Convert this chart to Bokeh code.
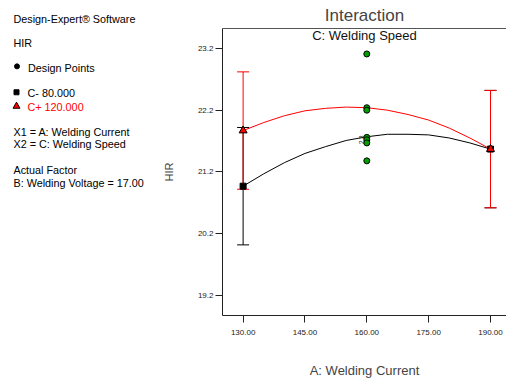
import numpy as np
from bokeh.plotting import figure
from bokeh.layouts import row
from bokeh.models import Range1d, LinearAxis, FixedTicker, Label
from bokeh.core.properties import value
from bokeh.embed import file_html
from bokeh.resources import INLINE

FONT = "Liberation Sans"

# ---- data ----
curve_x = [130, 135, 140, 145, 150, 155, 160, 165, 170, 175, 180, 185, 190]
c_minus = [20.97, 21.17, 21.35, 21.50, 21.61, 21.71, 21.77, 21.81, 21.81, 21.80, 21.75, 21.67, 21.57]
c_plus = [21.87, 22.00, 22.11, 22.19, 22.23, 22.25, 22.24, 22.20, 22.13, 22.04, 21.91, 21.75, 21.57]

end_x = [130, 190]
c_minus_end = [20.97, 21.57]
c_plus_end = [21.87, 21.57]
c_minus_lo = [20.02, 20.62]
c_minus_hi = [21.92, 22.52]
c_plus_lo = [20.92, 20.62]
c_plus_hi = [22.82, 22.52]

design_x = [160, 160, 160, 160, 160, 160, 160]
design_y = [23.11, 22.24, 22.20, 21.76, 21.72, 21.67, 21.38]

x_ticks = [130, 145, 160, 175, 190]
y_ticks = [19.2, 20.2, 21.2, 22.2, 23.2]

H = 380
FRAME_TOP = 28
FRAME_BOTTOM = 316
INFO_SIZE = "10.8px"

# ---- left info panel (its frame is aligned with the main frame) ----
W_LEFT = 158
left = figure(width=W_LEFT, height=H, x_range=Range1d(0, W_LEFT),
              y_range=Range1d(FRAME_BOTTOM, FRAME_TOP),
              output_backend="svg", toolbar_location=None, min_border=0,
              x_axis_type=None, y_axis_type=None, title="Design-Expert® Software")
left.title.align = "left"
left.title.offset = 13
left.title.standoff = 8
left.title.text_font = FONT
left.title.text_font_size = INFO_SIZE
left.title.text_font_style = "normal"
left.title.text_color = "black"
left.grid.visible = False
left.outline_line_color = None

info_lines = [
    (13, 42.7, "HIR", "black"),
    (27.5, 67.3, "Design Points", "black"),
    (27, 92.7, "C- 80.000", "black"),
    (27, 106.7, "C+ 120.000", "red"),
    (13, 132.3, "X1 = A: Welding Current", "black"),
    (13, 144.3, "X2 = C: Welding Speed", "black"),
    (13, 170.3, "Actual Factor", "black"),
    (13, 183, "B: Welding Voltage = 17.00", "black"),
]
for tx, ty, t, c in info_lines:
    left.add_layout(Label(x=tx, y=ty, text=t, text_font=FONT, text_font_size=INFO_SIZE,
                          text_color=c, text_baseline="middle", text_align="left"))
left.scatter(x=[16.5], y=[66], marker="circle", size=5, color="black")
left.scatter(x=[16], y=[92], marker="square", size=5, color="black")
left.scatter(x=[16], y=[106], marker="triangle", size=7, fill_color="red", line_color="black")

# ---- main plot ----
p = figure(width=348, height=H, output_backend="svg", toolbar_location=None,
           x_range=Range1d(125, 193.88), y_range=Range1d(18.877, 23.522),
           min_border_left=64, min_border_right=0, min_border_top=FRAME_TOP,
           min_border_bottom=H - FRAME_BOTTOM, title="Interaction")
p.title.align = "center"
p.title.text_font = FONT
p.title.text_font_size = "17px"
p.title.text_font_style = "normal"
p.title.standoff = 7
p.outline_line_color = None
p.grid.visible = False

p.xaxis.ticker = FixedTicker(ticks=x_ticks)
p.xaxis.major_label_overrides = {t: f"{t:.2f}" for t in x_ticks}
p.yaxis.ticker = FixedTicker(ticks=y_ticks)
p.yaxis.major_label_overrides = {t: f"{t:.1f}" for t in y_ticks}
p.xaxis.axis_label = "A: Welding Current"
p.yaxis.axis_label = "HIR"
for ax in (p.xaxis[0], p.yaxis[0]):
    ax.minor_tick_line_color = None
    ax.major_tick_in = 0
    ax.major_tick_out = 7
    ax.major_label_text_font = FONT
    ax.major_label_text_font_size = "8px"
    ax.major_label_text_color = "#222222"
    ax.axis_label_text_font = FONT
    ax.axis_label_text_font_style = "normal"
    ax.axis_line_color = "#222222"
    ax.major_tick_line_color = "#222222"
p.xaxis.axis_label_text_font_size = "13px"
p.yaxis.axis_label_text_font_size = "11px"
p.xaxis.major_label_standoff = 7
p.yaxis.major_label_standoff = 2
p.xaxis.axis_label_standoff = 25
p.yaxis.axis_label_standoff = 20

top_axis = LinearAxis(ticker=FixedTicker(ticks=[]), major_tick_out=0, major_tick_in=0,
                      minor_tick_line_color=None, major_label_text_font_size="0px",
                      axis_line_color="#555555")
p.add_layout(top_axis, "above")

p.text(x=[(125 + 193.88) / 2], y=[23.41], text=["C: Welding Speed"], text_font=value(FONT),
       text_font_size="13px", text_align="center", text_baseline="middle", text_color="#111111")

# curves
p.line(curve_x, c_minus, line_color="black", line_width=1)
p.line(curve_x, c_plus, line_color="red", line_width=1)

# error bars
p.segment(x0=end_x, y0=c_minus_lo, x1=end_x, y1=c_minus_hi, line_color="black", line_width=1)
p.scatter(x=end_x + end_x, y=c_minus_lo + c_minus_hi, marker="dash", size=12, line_color="black")
p.segment(x0=end_x, y0=c_plus_lo, x1=end_x, y1=c_plus_hi, line_color="red", line_width=1)
p.scatter(x=end_x + end_x, y=c_plus_lo + c_plus_hi, marker="dash", size=12, line_color="red")

# end markers
p.scatter(x=end_x, y=c_minus_end, marker="square", size=6, color="black")
p.scatter(x=end_x, y=c_plus_end, marker="triangle", size=8, fill_color="red", line_color="black")

# design points
p.scatter(x=design_x, y=design_y, marker="circle", size=6, fill_color="#00a000", line_color="black")
p.text(x=[158.6, 158.6], y=[21.76, 21.68], text=["3", "2"], text_font=value(FONT),
       text_font_size="7px", text_align="center", text_baseline="middle", angle=np.pi / 2,
       text_color="#333333")

layout = row(left, p)
open("out.html", "w").write(file_html(layout, INLINE))
